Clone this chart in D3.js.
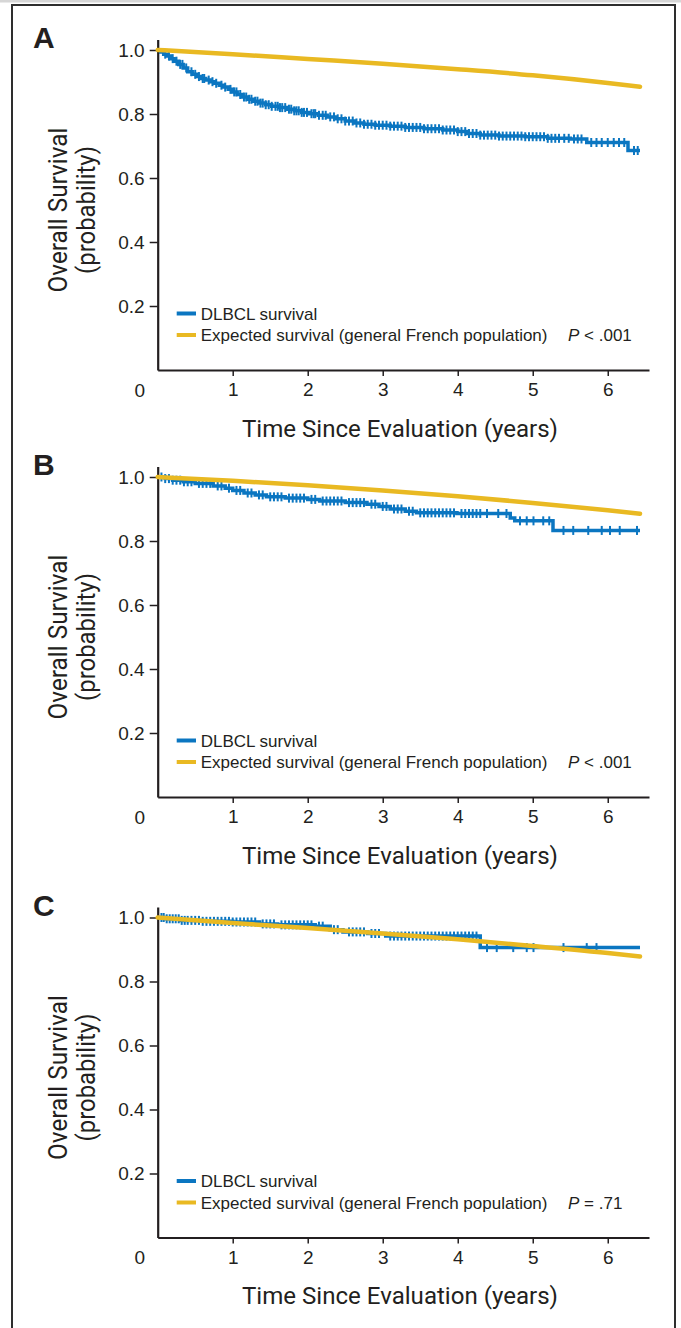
<!DOCTYPE html>
<html>
<head>
<meta charset="utf-8">
<script src="https://cdn.jsdelivr.net/npm/d3@7"></script>
<style>
  body { margin: 0; background: #fff; }
  text { fill: #231f20; }
</style>
</head>
<body>
<div id="chart"></div>
<script>
// Kaplan-Meier steps, panel A
const aTime = [0, 0.04, 0.08, 0.12, 0.17, 0.22, 0.28, 0.34, 0.4, 0.46, 0.52, 0.58, 0.64, 0.7, 0.76, 0.82, 0.88, 0.94, 1.0, 1.06, 1.12, 1.2, 1.28, 1.36, 1.44, 1.52, 1.62, 1.72, 1.82, 1.92, 2.02, 2.14, 2.26, 2.38, 2.5, 2.62, 2.75, 2.9, 3.1, 3.3, 3.55, 3.8, 4.0, 4.12, 4.3, 4.55, 4.9, 5.2, 5.5, 5.72, 6.27, 6.43];
const aSurv = [1.0, 0.994, 0.987, 0.981, 0.973, 0.965, 0.955, 0.944, 0.932, 0.924, 0.917, 0.911, 0.906, 0.901, 0.896, 0.89, 0.884, 0.877, 0.869, 0.861, 0.853, 0.846, 0.84, 0.834, 0.829, 0.824, 0.82, 0.815, 0.81, 0.805, 0.801, 0.796, 0.791, 0.785, 0.778, 0.772, 0.768, 0.765, 0.762, 0.758, 0.754, 0.75, 0.745, 0.739, 0.734, 0.731, 0.729, 0.724, 0.722, 0.711, 0.686, 0.686];
const aCensor = [0.1, 0.15, 0.2, 0.25, 0.3, 0.33, 0.38, 0.45, 0.5, 0.55, 0.6, 0.62, 0.68, 0.73, 0.78, 0.85, 0.9, 0.97, 1.02, 1.05, 1.1, 1.15, 1.18, 1.22, 1.25, 1.3, 1.33, 1.37, 1.4, 1.44, 1.48, 1.52, 1.57, 1.6, 1.63, 1.66, 1.7, 1.75, 1.78, 1.82, 1.85, 1.88, 1.92, 1.95, 1.99, 2.05, 2.08, 2.1, 2.15, 2.2, 2.24, 2.3, 2.35, 2.4, 2.45, 2.5, 2.55, 2.6, 2.65, 2.7, 2.75, 2.8, 2.85, 2.9, 2.95, 3.0, 3.05, 3.1, 3.15, 3.2, 3.25, 3.3, 3.35, 3.4, 3.45, 3.5, 3.55, 3.6, 3.65, 3.7, 3.75, 3.8, 3.85, 3.9, 3.95, 4.0, 4.05, 4.1, 4.15, 4.2, 4.25, 4.3, 4.35, 4.4, 4.45, 4.5, 4.55, 4.6, 4.65, 4.7, 4.75, 4.8, 4.85, 4.9, 4.95, 5.0, 5.05, 5.1, 5.15, 5.2, 5.25, 5.3, 5.35, 5.42, 5.48, 5.55, 5.6, 5.65, 5.78, 5.85, 5.92, 6.0, 6.08, 6.15, 6.22, 6.35, 6.4];

// panel B
const bTime = [0, 0.1, 0.2, 0.34, 0.5, 0.74, 0.9, 1.0, 1.15, 1.3, 1.45, 1.7, 2.0, 2.16, 2.5, 2.79, 2.95, 3.1, 3.3, 3.45, 3.99, 4.7, 4.76, 5.27, 6.43];
const bSurv = [1.0, 0.995, 0.99, 0.985, 0.98, 0.972, 0.965, 0.958, 0.95, 0.944, 0.938, 0.934, 0.93, 0.925, 0.92, 0.915, 0.908, 0.9, 0.893, 0.888, 0.886, 0.872, 0.863, 0.833, 0.833];
const bCensor = [0.05, 0.1, 0.15, 0.2, 0.25, 0.3, 0.35, 0.4, 0.45, 0.55, 0.6, 0.65, 0.7, 0.8, 0.85, 0.95, 1.05, 1.1, 1.2, 1.25, 1.35, 1.4, 1.5, 1.55, 1.6, 1.65, 1.75, 1.8, 1.85, 1.9, 1.95, 2.05, 2.1, 2.2, 2.25, 2.3, 2.35, 2.4, 2.45, 2.55, 2.6, 2.65, 2.7, 2.75, 2.85, 2.9, 3.0, 3.05, 3.15, 3.2, 3.25, 3.35, 3.4, 3.5, 3.55, 3.6, 3.65, 3.7, 3.75, 3.8, 3.85, 3.9, 3.95, 4.05, 4.1, 4.15, 4.2, 4.25, 4.3, 4.39, 4.54, 4.65, 4.83, 4.92, 5.01, 5.14, 5.22, 5.41, 5.54, 5.74, 5.92, 6.03, 6.16, 6.39];

// panel C
const cTime = [0, 0.1, 0.3, 0.6, 1.0, 1.36, 1.6, 2.1, 2.3, 2.47, 2.8, 3.04, 4.3, 6.43];
const cSurv = [1.0, 0.996, 0.991, 0.988, 0.986, 0.98, 0.977, 0.973, 0.962, 0.955, 0.95, 0.942, 0.906, 0.906];
const cCensor = [0.05, 0.08, 0.12, 0.16, 0.2, 0.24, 0.28, 0.32, 0.36, 0.4, 0.45, 0.5, 0.55, 0.6, 0.65, 0.7, 0.75, 0.8, 0.85, 0.9, 0.95, 1.0, 1.05, 1.1, 1.15, 1.2, 1.25, 1.3, 1.4, 1.45, 1.5, 1.55, 1.65, 1.7, 1.75, 1.8, 1.85, 1.9, 1.95, 2.0, 2.05, 2.15, 2.2, 2.35, 2.4, 2.55, 2.6, 2.65, 2.7, 2.75, 2.85, 2.9, 2.95, 3.1, 3.15, 3.2, 3.25, 3.3, 3.35, 3.4, 3.45, 3.5, 3.55, 3.6, 3.65, 3.7, 3.75, 3.8, 3.85, 3.9, 3.95, 4.0, 4.05, 4.1, 4.15, 4.2, 4.25, 4.39, 4.52, 4.74, 4.92, 5.01, 5.41, 5.72, 5.85];

// expected survival, general French population
const expTime = [0, 1, 2, 3, 4, 5, 6, 6.43];
const expA = [1.0, 0.987, 0.972, 0.957, 0.94, 0.921, 0.897, 0.885];
const expB = [1.0, 0.988, 0.974, 0.958, 0.94, 0.919, 0.896, 0.885];
const expC = [1.0, 0.983, 0.967, 0.95, 0.932, 0.911, 0.889, 0.878];

const panelLetters = ['A', 'B', 'C'];
const pValues = ['< .001', '< .001', '= .71'];
const xTicks = [1, 2, 3, 4, 5, 6];
const yTicks = [0.2, 0.4, 0.6, 0.8, 1.0];
const legendLabels = ['DLBCL survival', 'Expected survival (general French population)'];

const blue = '#0b76c1';
const yellow = '#e9b922';
const ink = '#231f20';
const narrow = 'Roboto, "Liberation Sans", sans-serif';

function draw() {
  const dimensions = { width: 681, height: 1328, left: 157.7, right: 649, plotH: 320 };
  const svg = d3.select('#chart').append('svg').attr('width', dimensions.width).attr('height', dimensions.height)
    .style('font-family', '"Liberation Sans", Arial, sans-serif');

  svg.append('rect').attr('x', 0).attr('y', 0).attr('width', 681).attr('height', 2.5).attr('fill', '#d6d6d6');
  svg.append('rect').attr('x', 12).attr('y', 5).attr('width', 663).attr('height', 1345)
    .attr('fill', 'none').attr('stroke', '#2e2e2e').attr('stroke-width', 2);

  const panels = [
    { axisY: 370, time: aTime, surv: aSurv, censor: aCensor, expected: expA },
    { axisY: 797, time: bTime, surv: bSurv, censor: bCensor, expected: expB },
    { axisY: 1237.5, time: cTime, surv: cSurv, censor: cCensor, expected: expC },
  ];

  const xScale = d3.scaleLinear().domain([0, 6.55]).range([dimensions.left, dimensions.right]);

  panels.forEach((p, i) => {
    const g = svg.append('g');
    const yScale = d3.scaleLinear().domain([0, 1.033]).range([p.axisY, p.axisY - dimensions.plotH * 1.033]);

    // axes
    const yAxis = d3.axisLeft(yScale).tickValues(yTicks).tickFormat(d3.format('.1f')).tickSize(8).tickSizeOuter(0).tickPadding(5);
    const yAxisGroup = g.append('g').attr('transform', `translate(${dimensions.left},0)`).call(yAxis);
    const xAxis = d3.axisBottom(xScale).tickValues(xTicks).tickFormat(d3.format('d')).tickSize(6).tickSizeOuter(0).tickPadding(7);
    const xAxisGroup = g.append('g').attr('transform', `translate(0,${p.axisY})`).call(xAxis);
    [yAxisGroup, xAxisGroup].forEach((ax) => {
      ax.select('.domain').attr('stroke', ink).attr('stroke-width', 2.2);
      ax.selectAll('.tick line').attr('stroke', ink).attr('stroke-width', 1.5);
      ax.selectAll('.tick text').attr('fill', ink).style('font-size', '19px').style('font-family', '"Liberation Sans", Arial, sans-serif');
    });
    g.append('text').attr('x', xScale(0) - 18).attr('y', p.axisY + 26.5).attr('text-anchor', 'middle')
      .style('font-size', '19px').text('0');

    // curves
    const km = p.time.map((t, j) => [t, p.surv[j]]);
    const stepLine = d3.line().x((d) => xScale(d[0])).y((d) => yScale(d[1])).curve(d3.curveStepAfter);
    g.append('path').datum(km).attr('d', stepLine).attr('fill', 'none').attr('stroke', blue).attr('stroke-width', 3.5);

    const survAt = (t) => p.surv[Math.max(0, d3.bisectRight(p.time, t) - 1)];
    g.append('g').selectAll('line').data(p.censor).join('line')
      .attr('x1', (d) => xScale(d)).attr('x2', (d) => xScale(d))
      .attr('y1', (d) => yScale(survAt(d)) - 4.5).attr('y2', (d) => yScale(survAt(d)) + 4.5)
      .attr('stroke', blue).attr('stroke-width', 2);

    const exp = expTime.map((t, j) => [t, p.expected[j]]);
    const smoothLine = d3.line().x((d) => xScale(d[0])).y((d) => yScale(d[1])).curve(d3.curveMonotoneX);
    g.append('path').datum(exp).attr('d', smoothLine).attr('fill', 'none').attr('stroke', yellow)
      .attr('stroke-width', 4.5).attr('stroke-linecap', 'round');

    // legend
    const legendY = [p.axisY - 56.5, p.axisY - 35];
    [blue, yellow].forEach((c, k) => {
      g.append('line').attr('x1', 176.7).attr('x2', 196).attr('y1', legendY[k]).attr('y2', legendY[k])
        .attr('stroke', c).attr('stroke-width', 4);
      g.append('text').attr('x', 200.7).attr('y', legendY[k] + 6).style('font-size', '17px').text(legendLabels[k]);
    });
    const pText = g.append('text').attr('x', 568).attr('y', legendY[1] + 6).style('font-size', '17px');
    pText.append('tspan').style('font-style', 'italic').text('P');
    pText.append('tspan').text(' ' + pValues[i]);

    // titles
    g.append('text').attr('x', 400).attr('y', p.axisY + 66.5).attr('text-anchor', 'middle')
      .style('font-family', narrow).style('font-size', '24px')
      .attr('textLength', 316).attr('lengthAdjust', 'spacingAndGlyphs')
      .text('Time Since Evaluation (years)');
    const yTitle = g.append('g').attr('transform', `translate(0,${p.axisY - 160}) rotate(-90)`);
    yTitle.append('text').attr('x', 0).attr('y', 67).attr('text-anchor', 'middle')
      .style('font-family', narrow).style('font-size', '25px')
      .attr('textLength', 165).attr('lengthAdjust', 'spacingAndGlyphs').text('Overall Survival');
    yTitle.append('text').attr('x', 0).attr('y', 95).attr('text-anchor', 'middle')
      .style('font-family', narrow).style('font-size', '25px')
      .attr('textLength', 128).attr('lengthAdjust', 'spacingAndGlyphs').text('(probability)');

    g.append('text').attr('x', 33).attr('y', p.axisY - 322).style('font-size', '30px').style('font-weight', 'bold')
      .text(panelLetters[i]);
  });
}

draw();
</script>
</body>
</html>
